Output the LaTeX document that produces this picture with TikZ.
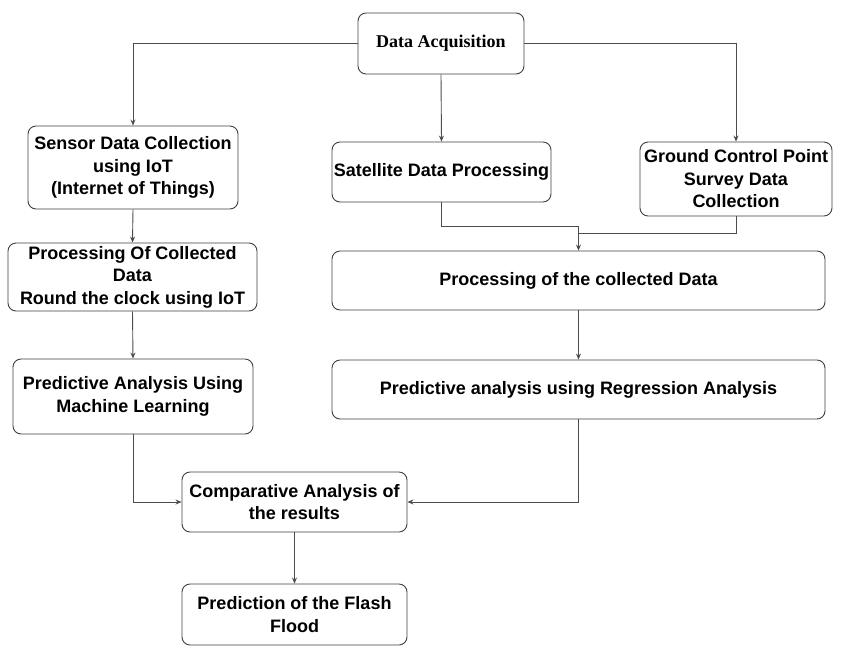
\documentclass[tikz,border=0pt]{standalone}
\usepackage{fontspec}
\setmainfont{Liberation Sans}
\newfontfamily\serifbold{Liberation Serif}
\usepackage{tikz}
\usetikzlibrary{positioning,arrows.meta}

\begin{document}
\begin{tikzpicture}[
  x=1pt, y=-1pt,
  box/.style={draw=black!75, line width=0.9pt, rounded corners=8pt, fill=white, align=center, inner sep=0pt, font=\fontsize{18}{22.5}\selectfont\bfseries},
  arrow/.style={-{Stealth[length=6pt,width=5pt]}, draw=black!70, line width=0.9pt},
  link/.style={draw=black!70, line width=0.9pt}
]
\useasboundingbox (0,0) rectangle (847,657);

% top row
\node[box, minimum width=166pt, minimum height=61pt, font=\fontsize{18}{22}\selectfont\serifbold\bfseries] (acq) at (441,43.5) {Data Acquisition};
\node[box, minimum width=210pt, minimum height=83pt] (sensor) at (133,167.5) {Sensor Data Collection\\using IoT\\(Internet of Things)};
\node[box, minimum width=219pt, minimum height=60pt] (sat) at (441.5,172) {Satellite Data Processing};
\node[box, minimum width=192pt, minimum height=74pt] (gcp) at (736,179) {Ground Control Point\\Survey Data\\Collection};

% processing
\node[box, minimum width=249pt, minimum height=68pt] (procleft) at (132.5,277) {Processing Of Collected\\Data\\Round the clock using IoT};
\node[box, minimum width=493pt, minimum height=59pt] (procright) at (578.5,280.5) {Processing of the collected Data};

% analysis
\node[box, minimum width=240pt, minimum height=75pt] (ml) at (133,396.5) {Predictive Analysis Using\\Machine Learning};
\node[box, minimum width=493pt, minimum height=59pt] (reg) at (578.5,389.5) {Predictive analysis using Regression Analysis};

% results
\node[box, minimum width=225pt, minimum height=60pt] (comp) at (294.5,502) {Comparative Analysis of\\the results};
\node[box, minimum width=225pt, minimum height=61pt] (flood) at (294.5,614.5) {Prediction of the Flash\\Flood};

\coordinate (satjoin) at (578.5,226);
\coordinate (gcpjoin) at (578.5,233);

\draw[arrow] (acq.west) -| (sensor.north);
\draw[arrow] (acq.south) -- (sat.north);
\draw[arrow] (acq.east) -| (gcp.north);
\draw[arrow] (sat.south) |- (satjoin) -- (procright.north);
\draw[link] (gcp.south) |- (gcpjoin);
\draw[arrow] (sensor.south) -- (procleft.north);
\draw[arrow] (procleft.south) -- (ml.north);
\draw[arrow] (procright.south) -- (reg.north);
\draw[arrow] (ml.south) |- (comp.west);
\draw[arrow] (reg.south) |- (comp.east);
\draw[arrow] (comp.south) -- (flood.north);
\end{tikzpicture}
\end{document}
